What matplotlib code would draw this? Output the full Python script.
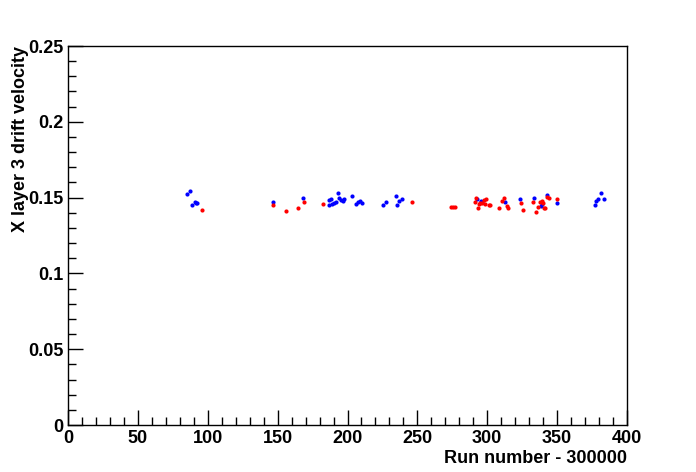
import matplotlib
matplotlib.use("Agg")
import matplotlib.pyplot as plt
from matplotlib.ticker import MultipleLocator

blue_run = [85.4, 87.3, 88.7, 90.7, 92.5, 91.5,
            146.7, 168.4,
            186.8, 188.0, 186.8, 188.9, 190.3, 191.8, 193.0, 193.9, 195.1, 196.6, 197.5,
            203.4, 205.9, 207.3, 208.7, 210.2,
            225.2, 227.5, 234.7, 235.6, 237.1, 239.0,
            292.9, 295.3, 295.5, 296.5, 312.9, 323.4, 333.7, 338.5, 339.5, 342.5, 349.7,
            377.1, 377.8, 379.0, 381.4, 383.5]
blue_vel = [0.1522, 0.1544, 0.1451, 0.1473, 0.1462, 0.1465,
            0.1473, 0.1495,
            0.1484, 0.1493, 0.1451, 0.1458, 0.1464, 0.1471, 0.1530, 0.1495, 0.1486, 0.1478, 0.1491,
            0.1509, 0.1458, 0.1469, 0.1478, 0.1462,
            0.1451, 0.1473, 0.1511, 0.1451, 0.1478, 0.1491,
            0.149, 0.1473, 0.1478, 0.1470, 0.1469, 0.1491, 0.1499, 0.1445, 0.1455, 0.1517, 0.1462,
            0.1451, 0.1480, 0.1491, 0.1532, 0.1491]

red_run = [95.9,
           146.7, 156.0, 164.6, 169.1,
           182.5, 246.2,
           273.8, 275.2, 276.6,
           291.0, 292.0, 293.6, 294.3, 294.8, 296.0, 297.9, 298.4, 298.9, 301.5, 302.0,
           308.6, 310.6, 312.0, 313.9, 314.6,
           324.2, 325.8, 333.0, 334.9, 336.5, 337.7, 339.0, 340.1, 340.8, 341.3, 343.0, 344.4, 350.1]
red_vel = [0.1418,
           0.1451, 0.1412, 0.1429, 0.1469,
           0.1458, 0.1473,
           0.1440, 0.1440, 0.1440,
           0.1473, 0.1495, 0.1429, 0.1458, 0.1462, 0.1462, 0.1484, 0.1458, 0.1490, 0.1451, 0.1451,
           0.1429, 0.1478, 0.1495, 0.1447, 0.1429,
           0.1462, 0.1418, 0.1469, 0.1407, 0.1440, 0.1473, 0.1478, 0.1462, 0.1429, 0.1429, 0.1506, 0.1495, 0.1491]

plt.rcParams['font.family'] = ['Liberation Sans', 'DejaVu Sans']
plt.rcParams['font.weight'] = 'bold'

fig = plt.figure(figsize=(6.96, 4.72), dpi=100)
ax = fig.add_axes([68/696, 1-425/472, (627-68)/696, (425-46)/472])

ax.plot(blue_run, blue_vel, 'o', color='#0000ff', markersize=3.0, markeredgewidth=0)
ax.plot(red_run, red_vel, 'o', color='#ff0000', markersize=3.0, markeredgewidth=0)

ax.set_xlim(0, 400)
ax.set_ylim(0, 0.25)
ax.xaxis.set_major_locator(MultipleLocator(50))
ax.xaxis.set_minor_locator(MultipleLocator(10))
ax.yaxis.set_major_locator(MultipleLocator(0.05))
ax.yaxis.set_minor_locator(MultipleLocator(0.01))
ax.set_yticks([0, 0.05, 0.1, 0.15, 0.2, 0.25])
ax.set_yticklabels(['0', '0.05', '0.1', '0.15', '0.2', '0.25'])
ax.tick_params(which='both', direction='in', top=False, right=False, labelsize=13)
ax.tick_params(which='major', length=11, width=1)
ax.tick_params(which='minor', length=5.5, width=1)
for lab in ax.get_xticklabels() + ax.get_yticklabels():
    lab.set_fontweight('bold')
for s in ax.spines.values():
    s.set_linewidth(1)

ax.set_xlabel('Run number - 300000', fontsize=13, fontweight='bold', loc='right', labelpad=2)
ax.set_ylabel('X layer 3 drift velocity', fontsize=13, fontweight='bold', loc='top')
ax.yaxis.set_label_coords(-0.069, 1.0)

fig.savefig('out.png', dpi=100)
